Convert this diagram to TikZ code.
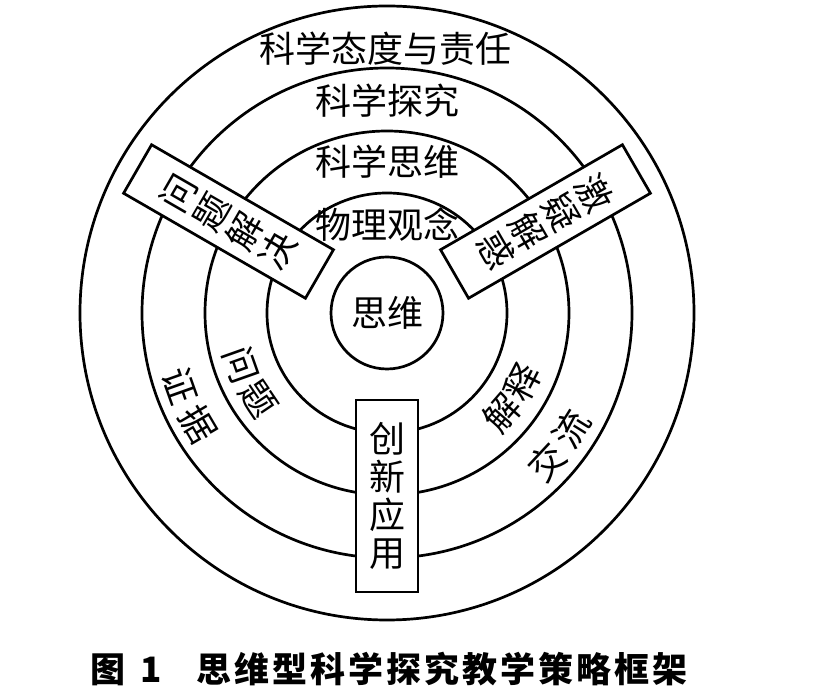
\documentclass[tikz,border=0pt]{standalone}
\usepackage{fontspec}
\setmainfont{Noto Sans CJK SC}
\usetikzlibrary{calc,positioning}

\tikzset{
  ring/.style={line width=2.7pt},
  layer/.style={inner sep=0pt,font=\fontsize{36}{36}\selectfont},
  tag/.style={draw,line width=2.7pt,fill=white,inner sep=0pt,align=center,
    font=\fontsize{36}{38}\selectfont},
}

\begin{document}
\begin{tikzpicture}[x=1pt,y=1pt]
  \useasboundingbox (0,0) rectangle (815,696);
  % centre of all rings (px, y up)
  \coordinate (O) at (387,383);
  % concentric rings, outer to inner
  \foreach \r in {307,245,182,120}{
    \draw[ring] (O) circle (\r);}
  \node[draw,ring,circle,minimum size=112pt,inner sep=0pt,
        font=\fontsize{36}{36}\selectfont] (core) at (O) {思维};
  % ring titles
  \node[layer] (attitude) at ($(O)+(-2,264)$) {科学态度与责任};
  \node[layer] (inquiry)  at ($(O)+(0,212)$)  {科学探究};
  \node[layer] (thinking) at ($(O)+(0,151)$)  {科学思维};
  \node[layer] (concept)  at ($(O)+(0,88)$)   {物理观念};
  % three spokes
  \node[tag,minimum width=62pt,minimum height=192pt] (create)
    at ($(O)+(270:183)$) {创\\新\\应\\用};
  \node[tag,rotate=60,minimum width=56pt,minimum height=210pt] (solve)
    at ($(O)+(150:183)$) {问\\题\\解\\决};
  \node[tag,rotate=-60,minimum width=56pt,minimum height=210pt] (doubt)
    at ($(O)+(30:183)$) {激\\疑\\解\\惑};
  % words along the rings (tops toward the centre)
  \node[layer,rotate=289.5] (ask1) at ($(O)+(199.5:155)$) {问};
  \node[layer,rotate=304]   (ask2) at ($(O)+(214:155)$)   {题};
  \node[layer,rotate=289.5] (evi1) at ($(O)+(199.5:219)$) {证};
  \node[layer,rotate=300.5] (evi2) at ($(O)+(210.5:219)$) {据};
  \node[layer,rotate=49]    (exp1) at ($(O)+(-41:152)$)   {解};
  \node[layer,rotate=63]    (exp2) at ($(O)+(-27:152)$)   {释};
  \node[layer,rotate=47]    (com1) at ($(O)+(-43:218)$)   {交};
  \node[layer,rotate=58]    (com2) at ($(O)+(-32:218)$)   {流};
  % caption
  \node[font=\bfseries\fontsize{35}{35}\selectfont,inner sep=0pt] (caption)
    at (389,27)
    {图\hspace{15pt}1\hspace{34pt}\addfontfeatures{LetterSpace=8.6}思维型科学探究教学策略框架};
\end{tikzpicture}
\end{document}
